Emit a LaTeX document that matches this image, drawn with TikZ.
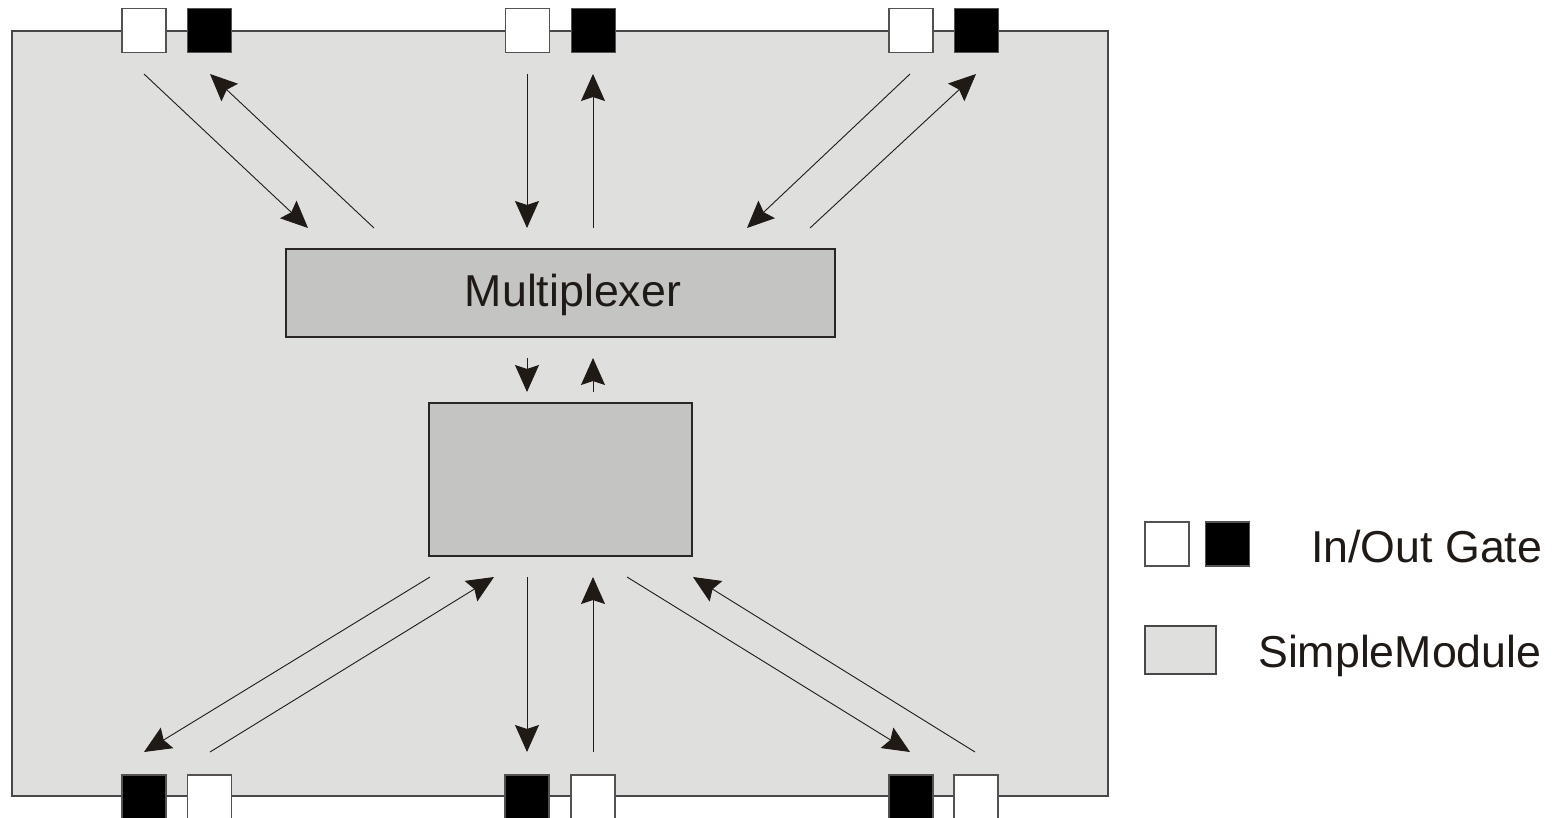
\documentclass[tikz,border=0pt]{standalone}
\usepackage{fontspec}
\setmainfont{Liberation Sans}
\usetikzlibrary{arrows.meta}
\definecolor{modfill}{HTML}{DFDFDE}
\definecolor{subfill}{HTML}{C4C4C3}
\definecolor{edge}{HTML}{2A2626}
\definecolor{ink}{HTML}{201A17}
\tikzset{
  module/.style={draw=edge, line width=1.3pt, fill=subfill, rectangle, inner sep=0pt},
  ingate/.style={draw=edge!80, line width=1.2pt, fill=white, rectangle, inner sep=0pt, minimum width=44pt, minimum height=44pt},
  outgate/.style={draw=edge!80, line width=1.2pt, fill=black, rectangle, inner sep=0pt, minimum width=44pt, minimum height=44pt},
  conn/.style={draw=ink, line width=0.9pt, -{Stealth[length=27pt, width=24pt, inset=4pt]}},
  lbl/.style={font=\fontsize{44.7}{50}\selectfont, text=ink, inner sep=0pt}
}
\begin{document}
\begin{tikzpicture}[x=1pt,y=-1pt]
\useasboundingbox (0,0) rectangle (1564,818);
% main compound module
\draw[draw=edge!85, line width=1.3pt, fill=modfill] (12,31) rectangle (1108,796);
% inner modules
\node[module, minimum width=549pt, minimum height=88pt] (mux) at (560.5,293) {};
\node[lbl, anchor=base] (muxtxt) at (573,307) {Multiplexer};
\node[module, minimum width=263pt, minimum height=153pt] (app) at (560.5,479.5) {};
% top gates
\node[ingate]  (ti1) at (144,30.5) {};
\node[outgate] (to1) at (209.5,30.5) {};
\node[ingate]  (ti2) at (527.5,30.5) {};
\node[outgate] (to2) at (593.5,30.5) {};
\node[ingate]  (ti3) at (911,30.5) {};
\node[outgate] (to3) at (976.5,30.5) {};
% bottom gates
\node[outgate] (bo1) at (144,797) {};
\node[ingate]  (bi1) at (209.5,797) {};
\node[outgate] (bo2) at (527,797) {};
\node[ingate]  (bi2) at (593,797) {};
\node[outgate] (bo3) at (911,797) {};
\node[ingate]  (bi3) at (976,797) {};
% arrow end points
\coordinate (a1s) at (144,74);  \coordinate (a1e) at (308,228);
\coordinate (a2s) at (374,228); \coordinate (a2e) at (210,74);
\coordinate (a3s) at (527,74);  \coordinate (a3e) at (527,228);
\coordinate (a4s) at (593,228); \coordinate (a4e) at (593,74);
\coordinate (a5s) at (910,74);  \coordinate (a5e) at (747,228);
\coordinate (a6s) at (810,228); \coordinate (a6e) at (976,74);
\coordinate (a7s) at (527,358); \coordinate (a7e) at (527,392);
\coordinate (a8s) at (593,392); \coordinate (a8e) at (593,358);
\coordinate (a9s) at (430,577); \coordinate (a9e) at (144,752);
\coordinate (b1s) at (210,752); \coordinate (b1e) at (494,577);
\coordinate (b2s) at (527,577); \coordinate (b2e) at (527,752);
\coordinate (b3s) at (593,752); \coordinate (b3e) at (593,577);
\coordinate (b4s) at (627,577); \coordinate (b4e) at (910,752);
\coordinate (b5s) at (975,752); \coordinate (b5e) at (693,577);
\foreach \p in {a1,a2,a3,a4,a5,a6,a7,a8,a9,b1,b2,b3,b4,b5}{
  \draw[conn] (\p s) -- (\p e);
}
% legend
\node[ingate]  (lgi) at (1167,544) {};
\node[outgate] (lgo) at (1227.5,544) {};
\node[lbl, anchor=base west] (lgt1) at (1311,562) {In/Out Gate};
\node[draw=edge!85, line width=1.3pt, fill=modfill, rectangle, inner sep=0pt, minimum width=71pt, minimum height=48pt] (lgm) at (1180.5,650) {};
\node[lbl, anchor=base west] (lgt2) at (1258,667) {SimpleModule};
\end{tikzpicture}
\end{document}
